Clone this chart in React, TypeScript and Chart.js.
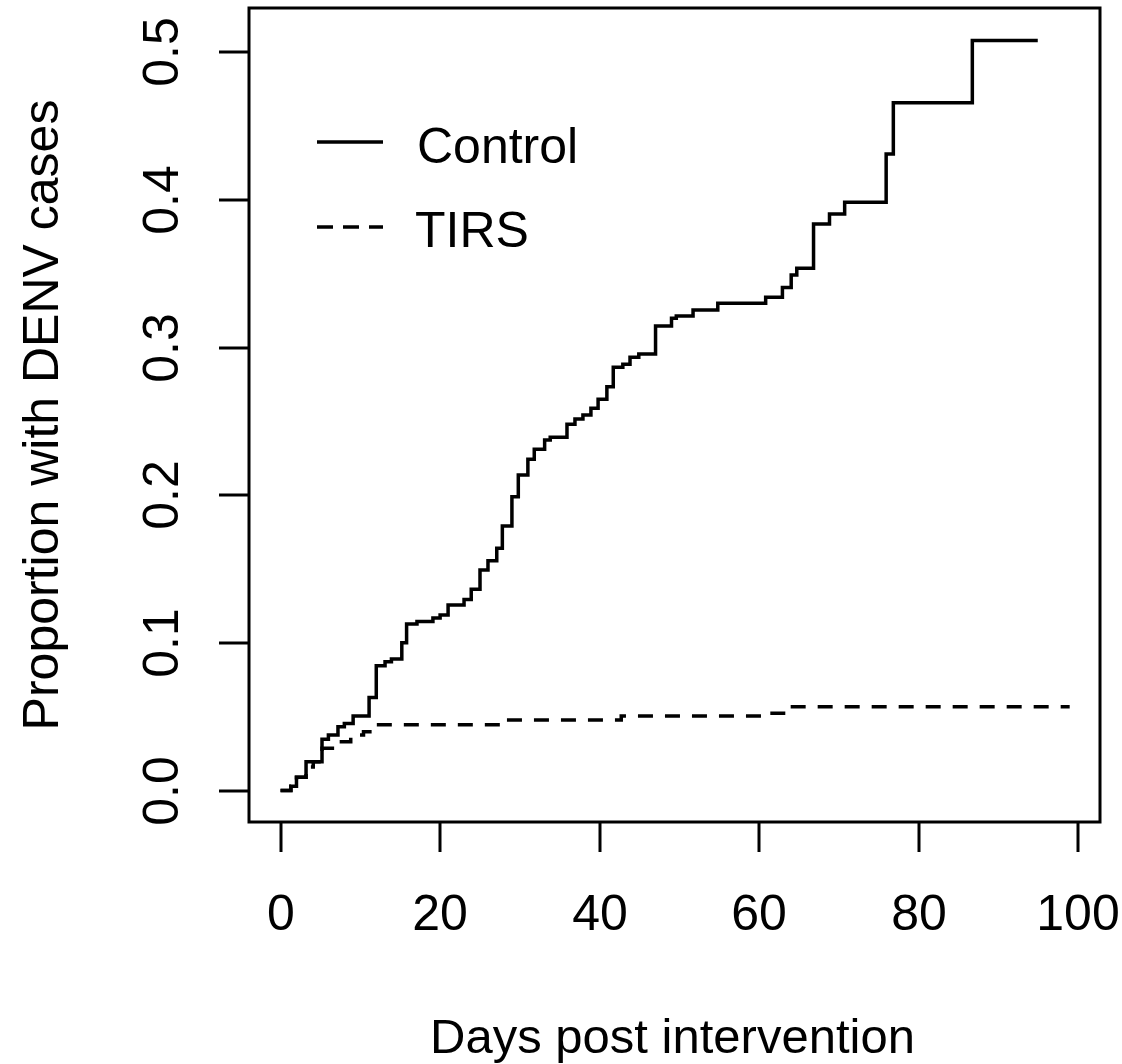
import React, { useEffect, useRef } from "react";
import { Chart, registerables } from "chart.js";

Chart.register(...registerables);

// Control (solid) step curve: day at which each step starts, cumulative proportion
const controlDays = [0, 1.3, 2.0, 3.2, 5.2, 6.0, 7.2, 8.0, 9.1, 11.1, 12.0, 13.1, 13.9, 15.2, 15.8, 17.1, 19.1, 20.0, 21.0, 23.0, 23.9, 25.0, 26.0, 27.1, 27.8, 29.0, 29.8, 31.0, 31.8, 33.1, 33.8, 35.9, 36.9, 37.9, 38.9, 39.8, 40.9, 41.7, 42.9, 43.8, 44.9, 47.0, 49.0, 49.6, 51.7, 54.8, 60.8, 62.9, 64.0, 64.7, 66.8, 68.8, 70.7, 75.9, 76.8, 86.7, 94.9];
const controlValues = [0, 0.003, 0.009, 0.0195, 0.0347, 0.0376, 0.0432, 0.0455, 0.0505, 0.0631, 0.0846, 0.0873, 0.0891, 0.1001, 0.1128, 0.1146, 0.1169, 0.1189, 0.1257, 0.1295, 0.1364, 0.1494, 0.1557, 0.1641, 0.1792, 0.1991, 0.2138, 0.2244, 0.2312, 0.2375, 0.2393, 0.2481, 0.2517, 0.2544, 0.2589, 0.2650, 0.2736, 0.2867, 0.2888, 0.2935, 0.2957, 0.3147, 0.3199, 0.3215, 0.3255, 0.3301, 0.3341, 0.3407, 0.3493, 0.3538, 0.3838, 0.3906, 0.3985, 0.4312, 0.4660, 0.5080, 0.5080];

// TIRS (dashed) step curve
const tirsDays = [0, 1.3, 2.0, 3.2, 4.1, 5.2, 6.5, 8.8, 10.4, 11.8, 27.7, 42.7, 60.8, 63.9, 98.9];
const tirsValues = [0, 0.003, 0.009, 0.016, 0.0195, 0.0286, 0.0331, 0.0376, 0.0399, 0.0445, 0.0478, 0.0505, 0.0523, 0.0568, 0.0568];

const seriesNames = ["Control", "TIRS"];
const xTicks = [0, 20, 40, 60, 80, 100];
const yTicks = [0, 0.1, 0.2, 0.3, 0.4, 0.5];
const xTitle = "Days post intervention";
const yTitle = "Proportion with DENV cases";

const FONT = '"Liberation Sans", Arial, Helvetica, sans-serif';

const rBasePlugin = {
  id: "rBase",
  afterDraw(chart: any) {
    const ctx = chart.ctx as CanvasRenderingContext2D;
    const area = chart.chartArea;
    const xs = chart.scales.x;
    const ys = chart.scales.y;
    ctx.save();
    ctx.strokeStyle = "#000";
    ctx.fillStyle = "#000";
    ctx.setLineDash([]);
    // box
    ctx.lineWidth = 3;
    ctx.strokeRect(area.left, area.top, area.right - area.left, area.bottom - area.top);
    // x ticks
    ctx.lineWidth = 3;
    ctx.font = `50px ${FONT}`;
    ctx.textAlign = "center";
    ctx.textBaseline = "alphabetic";
    xTicks.forEach((t) => {
      const px = Math.round(xs.getPixelForValue(t));
      ctx.beginPath();
      ctx.moveTo(px, area.bottom);
      ctx.lineTo(px, area.bottom + 30);
      ctx.stroke();
      ctx.fillText(String(t), px, 930);
    });
    // y ticks
    yTicks.forEach((t) => {
      const py = Math.round(ys.getPixelForValue(t));
      ctx.beginPath();
      ctx.moveTo(area.left, py);
      ctx.lineTo(area.left - 30, py);
      ctx.stroke();
      ctx.save();
      ctx.translate(178, py);
      ctx.rotate(-Math.PI / 2);
      ctx.fillText(t.toFixed(1), 0, 0);
      ctx.restore();
    });
    // axis titles
    ctx.font = `49px ${FONT}`;
    ctx.fillText(xTitle, (area.left + area.right) / 2 - 2, 1053);
    ctx.save();
    ctx.translate(58, (area.top + area.bottom) / 2);
    ctx.rotate(-Math.PI / 2);
    ctx.font = `50px ${FONT}`;
    ctx.fillText(yTitle, 0, 0);
    ctx.restore();
    // legend
    ctx.lineWidth = 3.5;
    ctx.beginPath();
    ctx.moveTo(317, 142);
    ctx.lineTo(383, 142);
    ctx.stroke();
    ctx.setLineDash([16, 10]);
    ctx.beginPath();
    ctx.moveTo(317, 227);
    ctx.lineTo(383, 227);
    ctx.stroke();
    ctx.setLineDash([]);
    ctx.textAlign = "left";
    ctx.font = `50px ${FONT}`;
    ctx.fillText(seriesNames[0], 417, 163);
    ctx.fillText(seriesNames[1], 415, 247);
    ctx.restore();
  },
};

export default function App() {
  const ref = useRef<HTMLCanvasElement | null>(null);
  useEffect(() => {
    if (!ref.current) return;
    const chart = new Chart(ref.current, {
      type: "line",
      data: {
        datasets: [
          {
            label: seriesNames[0],
            data: controlDays.map((d, i) => ({ x: d, y: controlValues[i] })),
            borderColor: "#000",
            borderWidth: 3.5,
            stepped: true,
            pointRadius: 0,
            fill: false,
          },
          {
            label: seriesNames[1],
            data: tirsDays.map((d, i) => ({ x: d, y: tirsValues[i] })),
            borderColor: "#000",
            borderWidth: 3.5,
            borderDash: [15, 12],
            stepped: true,
            pointRadius: 0,
            fill: false,
          },
        ],
      },
      options: {
        animation: false,
        responsive: false,
        devicePixelRatio: 1,
        layout: { padding: { left: 249, right: 22, top: 8, bottom: 242 } },
        plugins: { legend: { display: false }, tooltip: { enabled: false } },
        scales: {
          x: { type: "linear", display: false, min: -3.95, max: 102.7 },
          y: { type: "linear", display: false, min: -0.0213, max: 0.5301 },
        },
      },
      plugins: [rBasePlugin],
    });
    return () => chart.destroy();
  }, []);
  return (
    <div style={{ position: "absolute", left: 0, top: 0, width: 1122, height: 1064, background: "#fff" }}>
      <canvas ref={ref} width={1122} height={1064} />
    </div>
  );
}
